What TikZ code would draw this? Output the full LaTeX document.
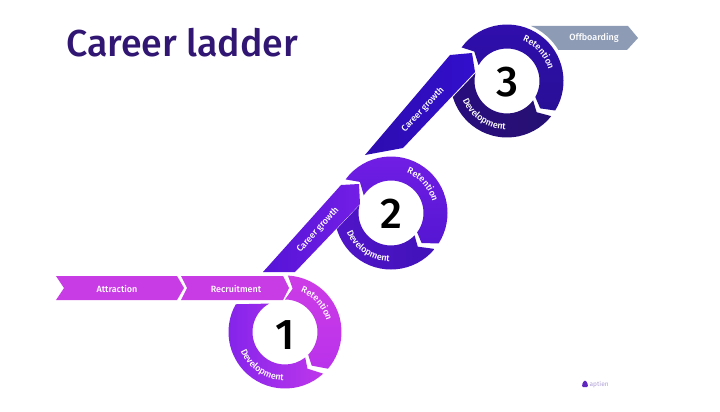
\documentclass[tikz,border=0pt]{standalone}
\usepackage{fontspec}
\setmainfont{Fira Sans}
\newfontfamily\medfont{Fira Sans Medium}
\usetikzlibrary{decorations.text}
\definecolor{titlec}{RGB}{50,22,115}
\definecolor{offc}{RGB}{141,155,181}
\definecolor{barc}{RGB}{200,60,230}
\definecolor{logoc}{RGB}{96,40,190}
\definecolor{logot}{RGB}{175,160,215}
\newcommand{\lblfont}{\fontsize{9}{10}\selectfont\medfont}
\tikzset{
  x=1pt,y=1pt,
  lbl/.style={text=white,font=\lblfont,inner sep=0pt},
  num/.style={text=black,font=\fontsize{43}{47}\selectfont\medfont,inner sep=0pt},
  curve text/.style={decorate,decoration={text along path,text color=white,text align=center,text={|\lblfont|#1}}},
}
\begin{document}
\begin{tikzpicture}
\useasboundingbox (0,0) rectangle (720,-412);
\fill[white] (0,0) rectangle (720,-412);

\node[anchor=base west,text=titlec,font=\fontsize{37.5}{40}\selectfont\medfont,inner sep=0pt] (title) at (66,-57) {Career ladder};

% bars
\fill[barc] (56,-276) -- (177,-276) -- (184,-288) -- (177,-300) -- (56,-300) -- (64,-288) -- cycle;
\fill[barc] (181,-276) -- (283,-276) -- (289,-288) -- (283,-300) -- (181,-300) -- (187,-288) -- cycle;
\node[lbl] (attr) at (117,-289) {Attraction};
\node[lbl] (recr) at (236,-289) {Recruitment};

% career growth 1
\shade[left color={rgb,255:red,85;green,20;blue,215},right color={rgb,255:red,115;green,30;blue,230}]
  (263,-272) -- (341,-185) -- (359,-184) -- (360,-204) -- (295,-272) -- cycle;
\node[lbl,rotate=47.5] (cg1) at (318,-230) {Career growth};

% career growth 2
\shade[left color={rgb,255:red,45;green,12;blue,175},right color={rgb,255:red,50;green,15;blue,205}]
  (365,-155) -- (450,-55) -- (472,-53) -- (475,-72) -- (403,-148) -- cycle;
\node[lbl,rotate=47] (cg2) at (423,-110) {Career growth};

% offboarding
\fill[offc] (531,-26) -- (628,-26) -- (638,-38) -- (627,-50) -- (558.4,-50) arc[start angle=31,end angle=66.4,radius=60] -- cycle;
\node[lbl] (off) at (594,-38) {Offboarding};

% ring 3
\begin{scope}[shift={(507,-81)}]
  \shade[top color={rgb,255:red,48;green,14;blue,175},bottom color={rgb,255:red,40;green,15;blue,150}]
    (143.5:56.5) arc[start angle=143.5,end angle=-31.5,radius=56.5] -- (-39.5:43) -- (-29.5:32.5)
    arc[start angle=-29.5,end angle=151,radius=32.5] -- (138:44) -- cycle;
  \shade[left color={rgb,255:red,40;green,14;blue,125},right color={rgb,255:red,38;green,15;blue,115}]
    (-38.5:56.5) arc[start angle=-38.5,end angle=-163.5,radius=56.5] -- (166:32.5)
    arc[start angle=-194,end angle=-36.5,radius=32.5] -- (-46.5:43) -- cycle;
  \path[curve text=Retention] (92:43) arc[start angle=92,end angle=-8,radius=43];
  \path[curve text=Development] (181:48.5) arc[start angle=181,end angle=291,radius=48.5];
  \node[num] (n3) at (0,-1) {3};
\end{scope}

% ring 2
\begin{scope}[shift={(391,-213)}]
  \shade[top color={rgb,255:red,115;green,30;blue,230},bottom color={rgb,255:red,85;green,22;blue,210}]
    (143.5:56.5) arc[start angle=143.5,end angle=-32.5,radius=56.5] -- (-44.5:43) -- (-36.5:32.5)
    arc[start angle=-36.5,end angle=147,radius=32.5] -- (135:44) -- cycle;
  \shade[left color={rgb,255:red,80;green,20;blue,200},right color={rgb,255:red,65;green,18;blue,185}]
    (-39.5:56.5) arc[start angle=-39.5,end angle=-163.5,radius=56.5] -- (166:32.5)
    arc[start angle=-194,end angle=-43.5,radius=32.5] -- (-51.5:43) -- cycle;
  \path[curve text=Retention] (92:43) arc[start angle=92,end angle=-8,radius=43];
  \path[curve text=Development] (181:48.5) arc[start angle=181,end angle=291,radius=48.5];
  \node[num] (n2) at (0,-1) {2};
\end{scope}

% ring 1
\begin{scope}[shift={(285,-332)}]
  \shade[top color={rgb,255:red,205;green,60;blue,230},bottom color={rgb,255:red,185;green,50;blue,235}]
    (87:56.5) arc[start angle=87,end angle=-40.5,radius=56.5] -- (-51.5:43) -- (-44.5:32.5)
    arc[start angle=-44.5,end angle=90,radius=32.5] -- (80:44) -- cycle;
  \shade[left color={rgb,255:red,130;green,35;blue,235},right color={rgb,255:red,190;green,55;blue,235}]
    (-47.5:56.5) arc[start angle=-47.5,end angle=-209.4,radius=56.5] -- (-241:32.5)
    arc[start angle=-241,end angle=-51.5,radius=32.5] -- (-58.5:43) -- cycle;
  \path[curve text=Retention] (92:43) arc[start angle=92,end angle=-8,radius=43];
  \path[curve text=Development] (181:48.5) arc[start angle=181,end angle=291,radius=48.5];
  \node[num] (n1) at (0,-3) {1};
\end{scope}

% logo
\fill[logoc,rounded corners=1pt] (582,-387) -- (582.5,-383) -- (585,-380) -- (587.5,-383) -- (588,-387) -- cycle;
\node[anchor=base west,text=logot,font=\fontsize{6.5}{8}\selectfont,inner sep=0pt] (logo) at (589.5,-386.5) {aptien};
\end{tikzpicture}
\end{document}
